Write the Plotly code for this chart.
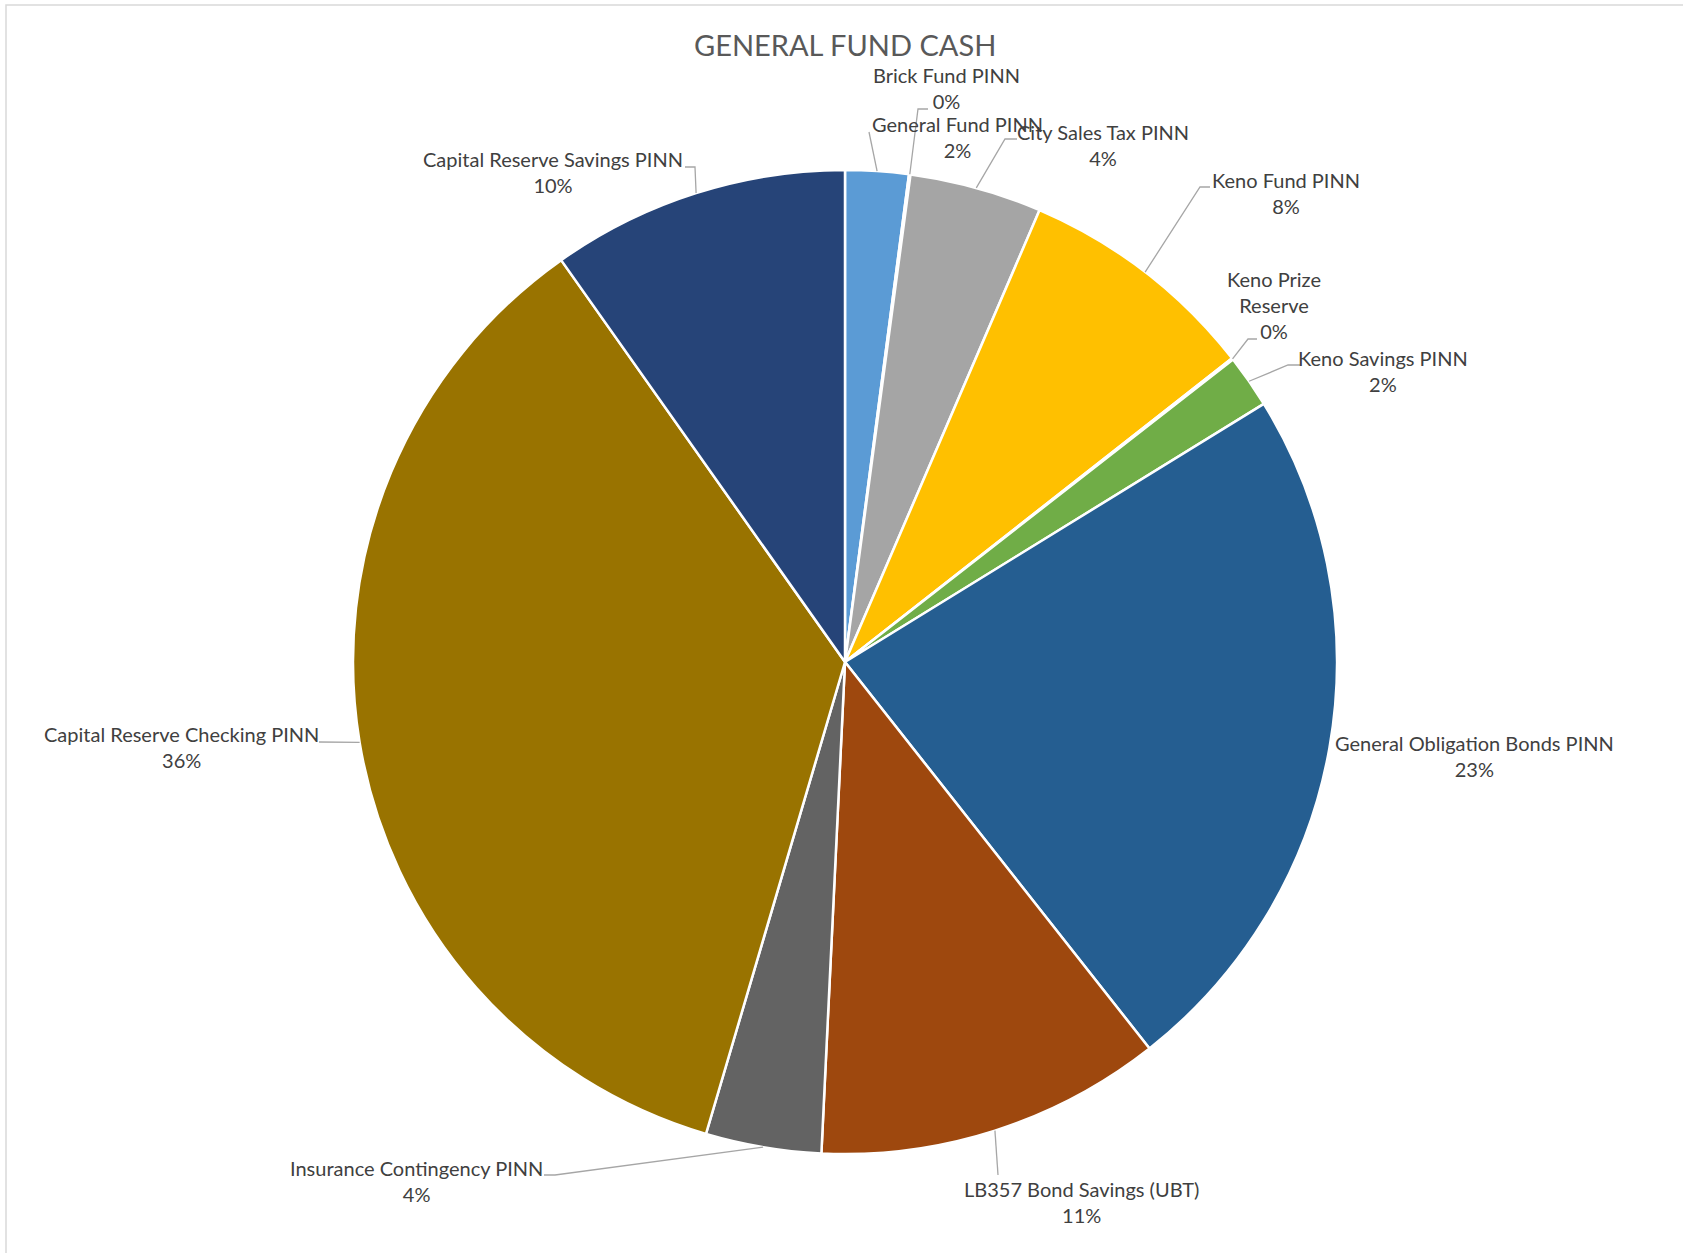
import math
import plotly.graph_objects as go

# ---- data ----
labels = ["General Fund PINN", "Brick Fund PINN", "City Sales Tax PINN", "Keno Fund PINN",
          "Keno Prize Reserve", "Keno Savings PINN", "General Obligation Bonds PINN",
          "LB357 Bond Savings (UBT)", "Insurance Contingency PINN",
          "Capital Reserve Checking PINN", "Capital Reserve Savings PINN"]
values = [2.08, 0.05, 4.35, 7.95, 0.05, 1.75, 23.2, 11.4, 3.8, 35.7, 9.8]
display_names = ["General Fund PINN", "Brick Fund PINN", "City Sales Tax PINN", "Keno Fund PINN",
                 "Keno Prize<br>Reserve", "Keno Savings PINN", "General Obligation Bonds PINN",
                 "LB357 Bond Savings (UBT)", "Insurance Contingency PINN",
                 "Capital Reserve Checking PINN", "Capital Reserve Savings PINN"]
title_text = "GENERAL FUND CASH"

# ---- styles ----
colors = ["#5B9BD5", "#4472C4", "#A5A5A5", "#FFC000", "#4472C4", "#70AD47",
          "#255E91", "#9E480E", "#636363", "#997300", "#264478"]

W, H = 1683, 1253
CX, CY, R = 845, 662, 492

# label block centres (pixels) and leader elbow points (pixels)
label_pos = [(957, 137.5), (946, 88), (1103, 144.5), (1286, 192.5), (1274, 305),
             (1383, 371.5), (1474, 755.5), (1081, 1201.5), (416, 1181), (181, 747), (553, 171.5)]
leader_pts = [[(869, 132)], [(918, 109), (928, 109)], [(1005, 139), (1017, 139)],
              [(1200, 187), (1210, 187)], [(1248, 339), (1257, 339)], [(1288, 365), (1300, 365)],
              None, [(998, 1175)], [(555, 1175), (544, 1175)], [(319, 742)], [(695, 167), (685, 167)]]


def px(x):
    return x / W


def py(y):
    return 1 - y / H


total = sum(values)
fig = go.Figure()
fig.add_trace(go.Pie(
    labels=labels, values=values, sort=False, direction="clockwise", rotation=0,
    marker=dict(colors=colors, line=dict(color="white", width=2.5)),
    textinfo="none", hoverinfo="label+percent", showlegend=False,
    domain=dict(x=[px(CX - R), px(CX + R)], y=[py(CY + R), py(CY - R)]),
))

annotations = []
shapes = []
cum = 0.0
for i, v in enumerate(values):
    mid = (cum + v / 2) / total * 2 * math.pi
    cum += v
    pct = round(v / total * 100)
    lx, ly = label_pos[i]
    annotations.append(dict(
        x=px(lx), y=py(ly), xref="paper", yref="paper", xanchor="center", yanchor="middle",
        text=f"{display_names[i]}<br>{pct}%", showarrow=False, align="center",
        font=dict(family="Lato", size=20, color="#404040")))
    if leader_pts[i]:
        sx = CX + R * math.sin(mid)
        sy = CY - R * math.cos(mid)
        pts = [(sx, sy)] + leader_pts[i]
        path = "M " + " L ".join(f"{px(a):.5f},{py(b):.5f}" for a, b in pts)
        shapes.append(dict(type="path", path=path, xref="paper", yref="paper",
                           line=dict(color="#A6A6A6", width=1.3)))

shapes.append(dict(type="rect", xref="paper", yref="paper", x0=px(6), y0=py(5), x1=px(W + 10), y1=py(H + 10),
                   line=dict(color="#D9D9D9", width=1.5), fillcolor="rgba(0,0,0,0)"))

annotations.append(dict(x=px(845), y=py(45), xref="paper", yref="paper", xanchor="center", yanchor="middle",
                        text=title_text, showarrow=False,
                        font=dict(family="Lato", size=29, color="#595959")))

fig.update_layout(width=W, height=H, margin=dict(l=0, r=0, t=0, b=0),
                  paper_bgcolor="white", plot_bgcolor="white",
                  annotations=annotations, shapes=shapes)
fig.write_html("out.html", config={"displayModeBar": False},
               post_script="document.body.style.margin='0px';")
